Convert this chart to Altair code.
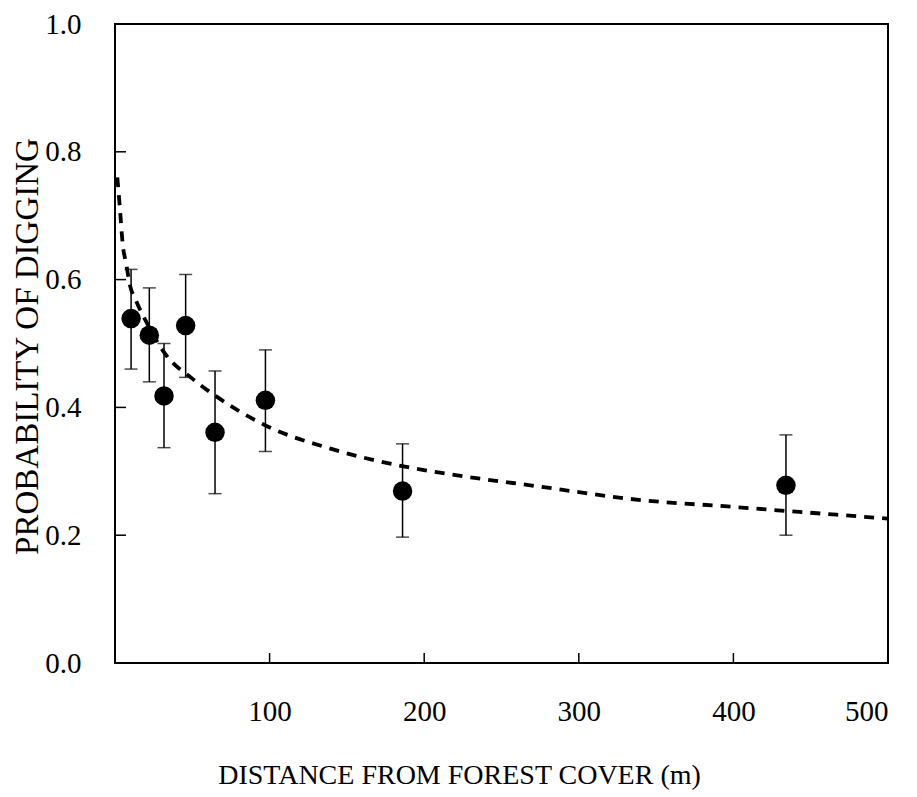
import altair as alt
import pandas as pd

# Observed points (distance in m, probability, error bar limits)
dist = [10.4, 22.2, 31.7, 45.7, 64.7, 97.3, 186, 434]
prob = [0.539, 0.513, 0.418, 0.528, 0.361, 0.411, 0.269, 0.278]
upper = [0.616, 0.587, 0.500, 0.608, 0.457, 0.490, 0.343, 0.357]
lower = [0.460, 0.440, 0.337, 0.447, 0.265, 0.331, 0.197, 0.200]

# Fitted curve
curve_x = [1.5, 3, 5, 7.3, 9.5, 13.6, 20, 33, 50, 65, 98, 140, 184, 215, 275, 340, 396, 434, 500]
curve_y = [0.76, 0.717, 0.655, 0.624, 0.593, 0.567, 0.535, 0.482, 0.445, 0.418, 0.371,
           0.335, 0.309, 0.296, 0.276, 0.255, 0.245, 0.238, 0.226]

x_ticks = [100, 200, 300, 400, 500]
y_ticks = [0.0, 0.2, 0.4, 0.6, 0.8, 1.0]
y_inner_ticks = [0.2, 0.4, 0.6, 0.8]

pts = pd.DataFrame({"dist": dist, "prob": prob, "upper": upper, "lower": lower})
curve = pd.DataFrame({"dist": curve_x, "prob": curve_y})
xt = pd.DataFrame({"dist": x_ticks})
yt = pd.DataFrame({"prob": y_inner_ticks})

FONT = "Liberation Serif"
W, H = 773, 639

xscale = alt.Scale(domain=[0, 500], nice=False, zero=False)
yscale = alt.Scale(domain=[0, 1], nice=False)

xaxis = alt.Axis(values=x_ticks, title="DISTANCE FROM FOREST COVER (m)", ticks=False,
                 domain=False, grid=False, labelPadding=34,
                 titleX=344, titleY=112, titleBaseline="middle", titleAlign="center",
                 labelFont=FONT, titleFont=FONT, labelFontSize=29, titleFontSize=28,
                 titleFontWeight="normal", labelColor="black", titleColor="black")
yaxis = alt.Axis(values=y_ticks, format=".1f", title="PROBABILITY OF DIGGING", ticks=False,
                 domain=False, grid=False, labelPadding=34,
                 titleX=-88, titleY=322, titleAngle=270, titleBaseline="middle",
                 titleAlign="center",
                 labelFont=FONT, titleFont=FONT, labelFontSize=29, titleFontSize=33,
                 titleFontWeight="normal", labelColor="black", titleColor="black")

X = lambda f: alt.X(f, scale=xscale, axis=xaxis)
Y = lambda f: alt.Y(f, scale=yscale, axis=yaxis)

bars = alt.Chart(pts).mark_rule(color="black", strokeWidth=1.5).encode(
    x=X("dist:Q"), y=Y("lower:Q"), y2="upper:Q",
)
cap_top = alt.Chart(pts).mark_tick(color="black", orient="horizontal", size=13, thickness=1.5).encode(
    x=X("dist:Q"), y=Y("upper:Q"),
)
cap_bot = alt.Chart(pts).mark_tick(color="black", orient="horizontal", size=13, thickness=1.5).encode(
    x=X("dist:Q"), y=Y("lower:Q"),
)
line = alt.Chart(curve).mark_line(color="black", strokeWidth=3.8, strokeDash=[10, 8],
                                  interpolate="monotone", clip=True).encode(
    x=X("dist:Q"), y=Y("prob:Q"),
)
dots = alt.Chart(pts).mark_circle(color="black", opacity=1, size=380).encode(
    x=X("dist:Q"), y=Y("prob:Q"),
)
xtick_layer = alt.Chart(xt).mark_rule(color="black", strokeWidth=1.5).encode(
    x=X("dist:Q"), y=alt.value(H), y2=alt.value(H - 10),
)
ytick_layer = alt.Chart(yt).mark_rule(color="black", strokeWidth=1.5).encode(
    y=Y("prob:Q"), x=alt.value(0), x2=alt.value(11),
)

chart = alt.layer(bars, cap_top, cap_bot, line, dots, xtick_layer, ytick_layer).properties(
    width=W, height=H,
    autosize=alt.AutoSizeParams(type="none"),
    padding={"left": 107, "top": 16, "right": 20, "bottom": 130},
    background="white",
).configure_view(stroke="black", strokeWidth=2)

chart.save("out.html", embed_options={"renderer": "svg", "actions": False})
